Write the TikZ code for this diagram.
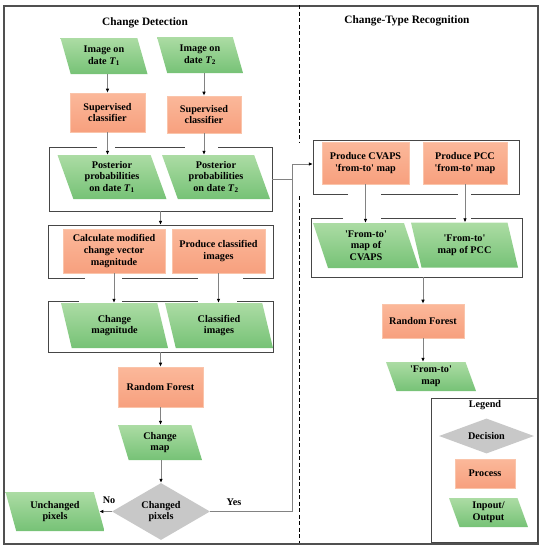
\documentclass[tikz,border=0pt]{standalone}
\usepackage{fontspec}
\setmainfont{Liberation Serif}
\usetikzlibrary{shapes.geometric,arrows.meta}
\definecolor{gT}{RGB}{172,220,164}
\definecolor{gB}{RGB}{118,194,118}
\definecolor{oT}{RGB}{251,184,154}
\definecolor{oB}{RGB}{247,160,126}
\definecolor{oD}{RGB}{250,196,170}
\definecolor{dG}{RGB}{200,200,200}
\definecolor{frm}{RGB}{80,80,80}
\definecolor{grpc}{RGB}{70,70,70}
\definecolor{arrc}{RGB}{130,130,130}
\newcommand{\Tone}{\textit{T}\textsubscript{1}}
\newcommand{\Ttwo}{\textit{T}\textsubscript{2}}
\newcommand{\q}{\textquotesingle}
\begin{document}
\begin{tikzpicture}[x=1pt,y=-1pt,
  every node/.style={font=\bfseries\fontsize{10.2}{11.7}\selectfont, align=center, inner sep=1pt},
  proc/.style={rectangle, draw=oD, line width=0.6pt, top color=oT, bottom color=oB},
  io/.style={trapezium, trapezium left angle=115, trapezium right angle=65,
    trapezium stretches body=true, top color=gT, bottom color=gB, draw=none},
  dec/.style={diamond, fill=dG, draw=none, aspect=1.7, inner sep=0pt},
  grp/.style={rectangle, draw=none, inner sep=0pt},
  grpline/.style={draw=grpc, line width=0.9pt},
  arr/.style={draw=arrc, line width=0.8pt, -{Latex[length=4pt,width=3.6pt,color=black]}},
  plain/.style={draw=arrc, line width=0.8pt},
  title/.style={font=\bfseries\fontsize{11.3}{13}\selectfont}
]
\useasboundingbox (0,0) rectangle (542,550);
% outer frame
\draw[frm, line width=1.4pt] (4,6) rectangle (538,544);
% divider
\draw[black, line width=0.9pt, dash pattern=on 4pt off 2.5pt] (299,5) -- (299,142);
\draw[black, line width=0.9pt, dash pattern=on 4pt off 2.5pt] (299,196) -- (299,543);

% titles
\node[title] (tl) at (145,23) {Change Detection};
\node[title] (tr) at (407,21) {Change-Type Recognition};

% ---- left column
\node[io, minimum width=87, minimum height=36] (t1) at (104,56) {Image on\\date \Tone};
\node[io, minimum width=86, minimum height=36] (t2) at (200,55) {Image on\\date \Ttwo};
\node[proc, minimum width=75, minimum height=39] (sc1) at (107.5,112.5) {Supervised\\classifier};
\node[proc, minimum width=74, minimum height=37] (sc2) at (204,114.5) {Supervised\\classifier};

\node[grp, minimum width=223, minimum height=64] (g1) at (160.5,179) {};
\draw[grpline] (97,147) -- (49,147) -- (49,211) -- (272,211) -- (272,147) -- (218,147);
\draw[grpline] (115,147) -- (185,147);
\node[io, minimum width=109, minimum height=44] (p1) at (112,177) {Posterior\\probabilities\\on date \Tone};
\node[io, minimum width=108, minimum height=44] (p2) at (216,177) {Posterior\\probabilities\\on date \Ttwo};

\node[grp, minimum width=225, minimum height=53] (g2) at (160.5,251.5) {};
\draw[grpline] (85,278) -- (48,278) -- (48,225) -- (273,225) -- (273,278) -- (243,278);
\draw[grpline] (122,278) -- (198,278);
\node[proc, minimum width=102, minimum height=44] (cm) at (114,251) {Calculate modified\\change vector\\magnitude};
\node[proc, minimum width=93, minimum height=44] (pc) at (218.5,251) {Produce classified\\images};

\node[grp, minimum width=225, minimum height=51] (g3) at (160.5,326.5) {};
\draw[grpline] (79,301) -- (48,301) -- (48,352) -- (273,352) -- (273,301) -- (237,301);
\draw[grpline] (122,301) -- (198,301);
\node[io, minimum width=107, minimum height=45] (mag) at (114.5,325.5) {Change\\magnitude};
\node[io, minimum width=108, minimum height=45] (ci) at (219,325.5) {Classified\\images};

\node[proc, minimum width=85, minimum height=40] (rf) at (160.5,387) {Random Forest};
\node[io, minimum width=84, minimum height=35] (cmap) at (160,442.5) {Change\\map};
\node[dec, minimum width=98, minimum height=57] (dc) at (161,511.5) {Changed\\pixels};
\node[io, minimum width=99, minimum height=39] (unch) at (55,511.5) {Unchanged\\pixels};
\node (no) at (109,500) {No};
\node (yes) at (234,502) {Yes};

% left arrows
\draw[arr] (t1.south -| sc1) -- (sc1);
\draw[arr] (t2.south -| sc2) -- (sc2);
\draw[arr] (sc1) -- (sc1 |- p1.north);
\draw[arr] (sc2) -- (sc2 |- p2.north);
\draw[arr] (g1) -- (g2);
\draw[arr] (cm) -- (cm |- mag.north);
\draw[arr] (pc) -- (pc |- ci.north);
\draw[arr] (g3) -- (rf);
\draw[arr] (rf) -- (rf |- cmap.north);
\draw[arr] (cmap.south -| dc) -- (dc);
\draw[arr] (dc) -- (unch);

% ---- right column
\node[grp, minimum width=206, minimum height=54] (g4) at (416,167) {};
\draw[grpline] (348,194) -- (313,194) -- (313,140) -- (519,140) -- (519,194) -- (471,194);
\draw[grpline] (381,194) -- (458,194);
\node[proc, minimum width=87, minimum height=42] (cv) at (365.5,163) {Produce CVAPS\\\q from-to\q\ map};
\node[proc, minimum width=84, minimum height=42] (pcc) at (465,163) {Produce PCC\\\q from-to\q\ map};

\node[grp, minimum width=211, minimum height=59] (g5) at (416.5,247.5) {};
\draw[grpline] (343,218) -- (311,218) -- (311,277) -- (522,277) -- (522,218) -- (471,218);
\draw[grpline] (381,218) -- (456,218);
\node[io, minimum width=106, minimum height=45] (fcv) at (366,245.5) {\q From-to\q\\map of\\CVAPS};
\node[io, minimum width=107, minimum height=45] (fpcc) at (464.5,245) {\q From-to\q\\map of PCC};

\node[proc, minimum width=82, minimum height=34] (rf2) at (423,321) {Random Forest};
\node[io, minimum width=90, minimum height=29] (ftm) at (431,376.5) {\q From-to\q\\map};

\draw[arr] (cv) -- (cv |- fcv.north);
\draw[arr] (pcc) -- (pcc |- fpcc.north);
\draw[arr] (g5.south -| rf2) -- (rf2);
\draw[arr] (rf2) -- (rf2 |- ftm.north);

% connection Yes / posterior to right column
\coordinate (jt) at (292,164);
\draw[plain] (dc.east) -| (jt);
\draw[plain] (g1.east) -- (g1.east -| jt);
\draw[arr] (jt) -- (jt -| g4.west);

% legend
\node[grp, minimum width=106, minimum height=144] (lg) at (484,470) {};
\draw[grpline] (431,398) rectangle (537,542);
\node (lgt) at (485,405) {Legend};
\node[dec, minimum width=95, minimum height=35] (ld) at (486.5,436) {Decision};
\node[proc, minimum width=60, minimum height=29] (lp) at (485,473.5) {Process};
\node[io, minimum width=79, minimum height=29] (lio) at (488.5,512.5) {Inpout/\\Output};
\end{tikzpicture}
\end{document}
